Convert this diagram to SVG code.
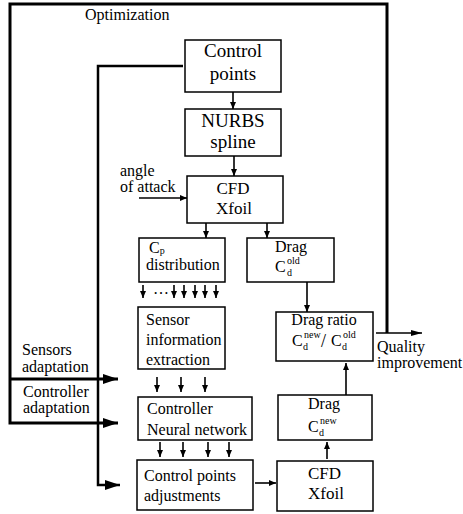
<svg xmlns="http://www.w3.org/2000/svg" width="463" height="514" viewBox="0 0 463 514">
<style>
text{fill:#000;font-size:16px;font-family:"Liberation Serif","Times New Roman",serif}
.big{font-size:19px}
.mid{font-size:17px}
.s{font-size:10px}
.box{fill:#fff;stroke:#000;stroke-width:1.5}
.thin{fill:none;stroke:#000;stroke-width:1.6}
.mid2{fill:none;stroke:#000;stroke-width:2.5}
.thick{fill:none;stroke:#000;stroke-width:3}
</style>
<defs>
<marker id="a" markerUnits="userSpaceOnUse" markerWidth="8" markerHeight="8" refX="7" refY="3" orient="auto"><path d="M0,0 L7,3 L0,6 z" fill="#000"/></marker>
<marker id="b" markerUnits="userSpaceOnUse" markerWidth="16" markerHeight="12" refX="15" refY="5" orient="auto"><path d="M0,0 L15,5 L0,10 z" fill="#000"/></marker>
<marker id="c" markerUnits="userSpaceOnUse" markerWidth="12" markerHeight="8" refX="11" refY="3" orient="auto"><path d="M0,0 L11,3 L0,6 z" fill="#000"/></marker>
</defs>
<g id="connectors">
<polyline class="thick" points="387,333 387,4 10,4 10,423 118,423" marker-end="url(#b)"/>
<line class="thick" x1="10" y1="379" x2="118" y2="379" marker-end="url(#b)"/>
<polyline class="mid2" points="183,66 98,66 98,485 120,485" marker-end="url(#b)"/>
<line class="thin" x1="376" y1="333" x2="422" y2="333" stroke-width="2" marker-end="url(#c)"/>
<line class="thin" x1="233" y1="92" x2="233" y2="109" marker-end="url(#a)"/>
<line class="thin" x1="234" y1="156" x2="234" y2="176" marker-end="url(#a)"/>
<line class="thin" x1="139" y1="198" x2="187" y2="198" stroke-width="2" marker-end="url(#a)"/>
<line class="thin" x1="206" y1="223" x2="206" y2="238" marker-end="url(#a)"/>
<line class="thin" x1="267" y1="223" x2="267" y2="238" marker-end="url(#a)"/>
<line class="thin" x1="143" y1="285" x2="143" y2="298" marker-end="url(#a)"/>
<line class="thin" x1="174" y1="285" x2="174" y2="298" marker-end="url(#a)"/>
<line class="thin" x1="184" y1="285" x2="184" y2="298" marker-end="url(#a)"/>
<line class="thin" x1="195" y1="285" x2="195" y2="298" marker-end="url(#a)"/>
<line class="thin" x1="205" y1="285" x2="205" y2="298" marker-end="url(#a)"/>
<line class="thin" x1="216" y1="285" x2="216" y2="298" marker-end="url(#a)"/>
<line class="thin" x1="307" y1="282" x2="307" y2="312" stroke-width="2.2" marker-end="url(#a)"/>
<line class="thin" x1="157" y1="377" x2="157" y2="392" marker-end="url(#a)"/>
<line class="thin" x1="181" y1="377" x2="181" y2="392" marker-end="url(#a)"/>
<line class="thin" x1="205" y1="377" x2="205" y2="392" marker-end="url(#a)"/>
<line class="thin" x1="160" y1="442" x2="160" y2="457" marker-end="url(#a)"/>
<line class="thin" x1="183" y1="442" x2="183" y2="457" marker-end="url(#a)"/>
<line class="thin" x1="208" y1="442" x2="208" y2="457" marker-end="url(#a)"/>
<line class="thin" x1="229" y1="442" x2="229" y2="457" marker-end="url(#a)"/>
<line class="thin" x1="255" y1="483" x2="276" y2="483" stroke-width="2" marker-end="url(#a)"/>
<line class="thin" x1="327" y1="459" x2="327" y2="442" marker-end="url(#a)"/>
<line class="thin" x1="346" y1="395" x2="346" y2="363" stroke-width="2.8" marker-end="url(#a)"/>
</g>
<g id="labels">
<text x="85" y="20">Optimization</text>
<text x="120" y="176">angle</text>
<text x="120" y="192">of attack</text>
<text x="153" y="294">…</text>
<text x="377" y="352">Quality</text>
<text x="377" y="368">improvement</text>
<text x="22" y="355">Sensors</text>
<text x="22" y="372">adaptation</text>
<text x="23" y="397">Controller</text>
<text x="23" y="413">adaptation</text>
</g>
<g id="control-points">
<rect class="box" x="185" y="40" width="96" height="52"/>
<text class="big" x="233" y="57" text-anchor="middle">Control</text>
<text class="big" x="233" y="80" text-anchor="middle">points</text>
</g>
<g id="nurbs">
<rect class="box" x="185" y="109" width="96" height="47"/>
<text class="big" x="233" y="127" text-anchor="middle">NURBS</text>
<text class="big" x="233" y="148" text-anchor="middle">spline</text>
</g>
<g id="cfd1">
<rect class="box" x="187" y="176" width="96" height="47"/>
<text class="mid" x="233" y="194" text-anchor="middle">CFD</text>
<text class="mid" x="234" y="214" text-anchor="middle">Xfoil</text>
</g>
<g id="cp">
<rect class="box" x="139" y="238" width="86" height="44"/>
<text x="149" y="253">C<tspan class="s" dy="1">p</tspan></text>
<text x="146" y="270">distribution</text>
</g>
<g id="drag-old">
<rect class="box" x="247" y="238" width="87" height="44"/>
<text x="275" y="252">Drag</text>
<text x="275" y="272">C</text>
<text class="s" x="287" y="276">d</text>
<text class="s" x="287" y="264">old</text>
</g>
<g id="sensor">
<rect class="box" x="138" y="307" width="87" height="62"/>
<text x="146" y="325">Sensor</text>
<text x="146" y="345">information</text>
<text x="146" y="365">extraction</text>
</g>
<g id="drag-ratio">
<rect class="box" x="276" y="312" width="97" height="49"/>
<text x="324" y="325" text-anchor="middle">Drag ratio</text>
<text x="292" y="346">C</text>
<text class="s" x="303" y="350">d</text>
<text class="s" x="304" y="338">new</text>
<text x="321" y="347" style="font-size:18px">/</text>
<text x="331" y="346">C</text>
<text class="s" x="342" y="350">d</text>
<text class="s" x="343" y="338">old</text>
</g>
<g id="controller">
<rect class="box" x="138" y="397" width="114" height="43"/>
<text x="147" y="414">Controller</text>
<text x="147" y="435">Neural network</text>
</g>
<g id="drag-new">
<rect class="box" x="278" y="395" width="94" height="45"/>
<text x="308" y="409">Drag</text>
<text x="308" y="432">C</text>
<text class="s" x="319" y="436">d</text>
<text class="s" x="320" y="424">new</text>
</g>
<g id="adjustments">
<rect class="box" x="137" y="460" width="116" height="50"/>
<text x="144" y="481">Control points</text>
<text x="144" y="501">adjustments</text>
</g>
<g id="cfd2">
<rect class="box" x="277" y="461" width="96" height="50"/>
<text class="mid" x="308" y="479">CFD</text>
<text class="mid" x="308" y="499">Xfoil</text>
</g>
</svg>
